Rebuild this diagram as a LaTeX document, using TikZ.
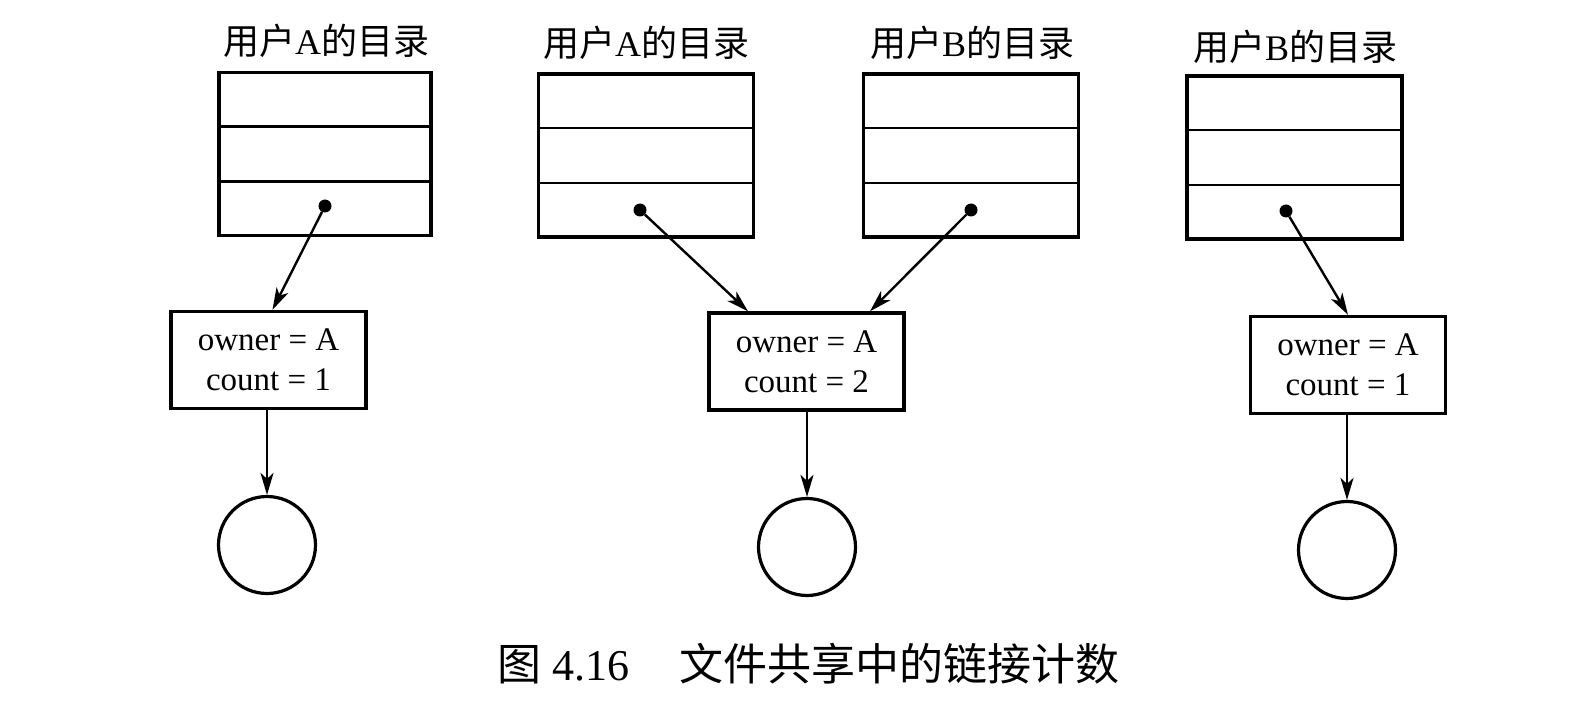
\documentclass[tikz,border=0pt]{standalone}
\usepackage{fontspec}
\setmainfont{Liberation Serif}
\newfontfamily\cjk{Noto Sans CJK SC}
\usetikzlibrary{arrows.meta,calc}
\tikzset{
  dirbox/.style={draw, line width=3.4pt, minimum width=212pt, minimum height=163pt, inner sep=0pt},
  divider/.style={line width=2.5pt},
  inode/.style={draw, line width=3.4pt, minimum width=195pt, minimum height=97pt, align=center, inner sep=0pt, font=\fontsize{33}{40}\selectfont},
  filenode/.style={draw, circle, line width=3.2pt, minimum size=97pt, inner sep=0pt},
  ptr/.style={circle, fill, inner sep=0pt, minimum size=13pt},
  link/.style={line width=2.4pt, -{Stealth[length=22pt,width=13pt,inset=6pt]}},
  lbl/.style={font=\fontsize{36}{40}\selectfont, inner sep=0pt},
  capt/.style={font=\fontsize{44}{50}\selectfont, inner sep=0pt}
}
\begin{document}
\begin{tikzpicture}[x=1pt,y=-1pt]
\useasboundingbox (0,0) rectangle (1588,714);
% directory labels
\node[lbl] (l1) at (326,41) {{\cjk 用户}A{\cjk 的目录}};
\node[lbl] (l2) at (646,43) {{\cjk 用户}A{\cjk 的目录}};
\node[lbl] (l3) at (972,43) {{\cjk 用户}B{\cjk 的目录}};
\node[lbl] (l4) at (1295,47) {{\cjk 用户}B{\cjk 的目录}};
% directory boxes
\node[dirbox] (d1) at (325,154) {};
\node[dirbox, minimum width=215pt] (d2) at (646,155.5) {};
\node[dirbox, minimum width=215pt] (d3) at (971,155.5) {};
\node[dirbox, minimum width=215pt] (d4) at (1294.5,157.5) {};
\foreach \d in {d1,d2,d3,d4}{
  \draw[divider] ($(\d.north west)!1/3!(\d.south west)$) -- ($(\d.north east)!1/3!(\d.south east)$);
  \draw[divider] ($(\d.north west)!2/3!(\d.south west)$) -- ($(\d.north east)!2/3!(\d.south east)$);
}
% pointers
\node[ptr] (p1) at (325,206) {};
\node[ptr] (p2) at (640,210) {};
\node[ptr] (p3) at (971,210) {};
\node[ptr] (p4) at (1286,211) {};
% inodes
\node[inode] (i1) at (268.5,360) {owner = A\\count = 1};
\node[inode] (i2) at (806.5,361.5) {owner = A\\count = 2};
\node[inode] (i3) at (1348,365) {owner = A\\count = 1};
% files
\node[filenode] (c1) at (267,545) {};
\node[filenode] (c2) at (807,547) {};
\node[filenode] (c3) at (1347,550) {};
% links
\draw[link] (p1) -- ($(i1.north west)!0.52!(i1.north east)$);
\draw[link] (p2) -- ($(i2.north west)!0.205!(i2.north east)$);
\draw[link] (p3) -- ($(i2.north west)!0.82!(i2.north east)$);
\draw[link] (p4) -- (i3.north);
\draw[link] (i1.south -| c1.north) -- (c1.north);
\draw[link] (i2.south -| c2.north) -- (c2.north);
\draw[link] (i3.south -| c3.north) -- (c3.north);
% caption
\node[capt] (cap) at (808,664) {{\cjk 图}\ 4.16\hspace{50pt}{\cjk 文件共享中的链接计数}};
\end{tikzpicture}
\end{document}
